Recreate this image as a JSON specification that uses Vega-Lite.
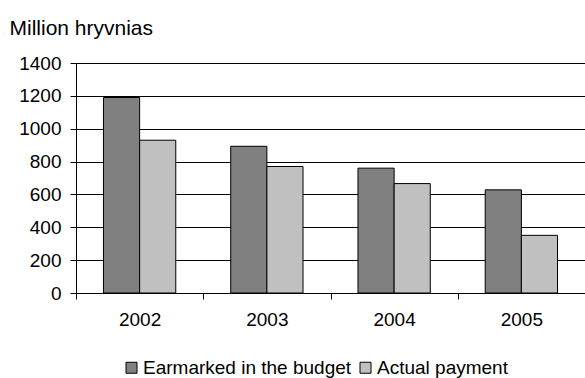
{
  "$schema": "https://vega.github.io/schema/vega-lite/v6.json",
  "autosize": "none",
  "width": 509,
  "height": 230,
  "padding": {"left": 76, "top": 63, "right": 0, "bottom": 85},
  "background": "white",
  "config": {
    "view": {"stroke": null},
    "font": "Liberation Sans"
  },
  "data": {
    "values": [
      {"year": "2002", "series": "Earmarked in the budget", "value": 1190},
      {"year": "2002", "series": "Actual payment", "value": 930},
      {"year": "2003", "series": "Earmarked in the budget", "value": 893},
      {"year": "2003", "series": "Actual payment", "value": 770},
      {"year": "2004", "series": "Earmarked in the budget", "value": 760},
      {"year": "2004", "series": "Actual payment", "value": 666},
      {"year": "2005", "series": "Earmarked in the budget", "value": 628},
      {"year": "2005", "series": "Actual payment", "value": 351}
    ]
  },
  "mark": {"type": "bar", "stroke": "black", "strokeWidth": 1},
  "encoding": {
    "x": {
      "field": "year",
      "type": "nominal",
      "scale": {"paddingInner": 0, "paddingOuter": 0},
      "axis": {
        "title": null,
        "labelAngle": 0,
        "labelFont": "Liberation Sans",
        "labelFontSize": 19,
        "labelColor": "black",
        "labelPadding": 11,
        "domainColor": "black",
        "domainWidth": 1,
        "tickColor": "black",
        "tickSize": 6,
        "tickBand": "extent",
        "grid": false
      }
    },
    "xOffset": {
      "field": "series",
      "type": "nominal",
      "sort": ["Earmarked in the budget", "Actual payment"],
      "scale": {"paddingInner": 0, "paddingOuter": 0.76}
    },
    "y": {
      "field": "value",
      "type": "quantitative",
      "scale": {"domain": [0, 1400], "nice": false},
      "axis": {
        "values": [0, 200, 400, 600, 800, 1000, 1200, 1400],
        "format": "d",
        "title": "Million hryvnias",
        "titleAngle": 0,
        "titleAlign": "left",
        "titleBaseline": "alphabetic",
        "titleX": -67,
        "titleY": -29,
        "titleFont": "Liberation Sans",
        "titleFontSize": 21,
        "titleFontWeight": "normal",
        "titleColor": "black",
        "labelFont": "Liberation Sans",
        "labelFontSize": 19,
        "labelColor": "black",
        "labelPadding": 9,
        "domainColor": "black",
        "tickColor": "black",
        "tickSize": 6,
        "grid": true,
        "gridColor": "black",
        "gridWidth": 1,
        "gridOpacity": 1
      }
    },
    "fill": {
      "field": "series",
      "type": "nominal",
      "sort": ["Earmarked in the budget", "Actual payment"],
      "scale": {"range": ["#808080", "#c0c0c0"]},
      "legend": {
        "title": null,
        "orient": "none",
        "direction": "horizontal",
        "legendX": 46,
        "legendY": 295,
        "padding": 0,
        "symbolType": "square",
        "symbolSize": 121,
        "symbolStrokeColor": "black",
        "symbolStrokeWidth": 1,
        "labelFont": "Liberation Sans",
        "labelFontSize": 19,
        "labelColor": "black",
        "labelOffset": 2,
        "columnPadding": 4,
        "labelLimit": 400
      }
    }
  }
}
